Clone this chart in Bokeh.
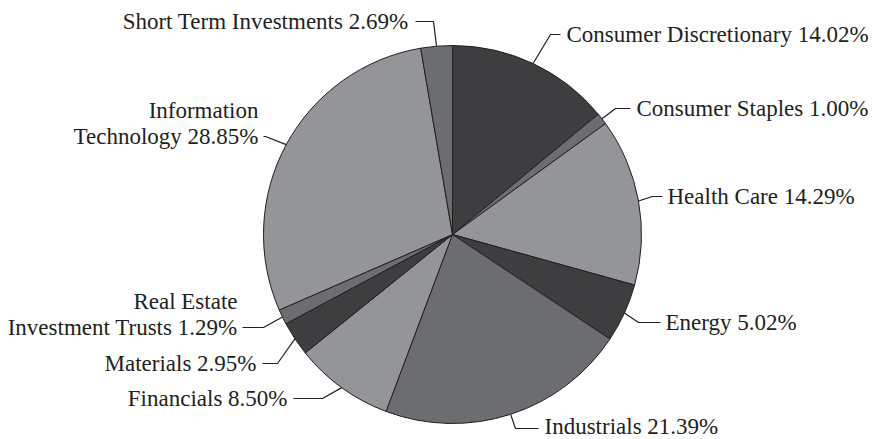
import math
from bokeh.plotting import figure
from bokeh.models import Range1d, ColumnDataSource
from bokeh.core.properties import value
from bokeh.embed import file_html
from bokeh.resources import INLINE

# ---- data ----
sectors = ["Consumer Discretionary", "Consumer Staples", "Health Care", "Energy",
           "Industrials", "Financials", "Materials", "Real Estate\nInvestment Trusts",
           "Information\nTechnology", "Short Term Investments"]
weights = [14.02, 1.00, 14.29, 5.02, 21.39, 8.50, 2.95, 1.29, 28.85, 2.69]
pct_labels = ["14.02%", "1.00%", "14.29%", "5.02%", "21.39%", "8.50%", "2.95%", "1.29%", "28.85%", "2.69%"]

DARK, MID, LIGHT = "#3e3e40", "#6c6d71", "#939598"
colors = [DARK, MID, LIGHT, DARK, MID, LIGHT, DARK, MID, LIGHT, MID]

# ---- layout (image pixel coords, y downward) ----
W, H = 872, 439
CX, CY, R = 452, 234, 189
# per label: elbow point, line end point, text x, text y, align
label_layout = [
    ((550, 34), (560, 34), 566, 34, "left"),
    ((615, 108), (630, 108), 636, 108, "left"),
    ((652, 196), (662, 196), 667, 196, "left"),
    ((638, 322), (660, 322), 665, 322, "left"),
    ((515, 428), (538, 428), 544, 426, "left"),
    ((322, 398), (293, 398), 287, 398, "right"),
    ((277, 363), (262, 363), 256, 363, "right"),
    ((263, 327), (242, 327), 237, 327, "right"),
    ((265, 136), (263, 136), 258, 136, "right"),
    ((433, 21), (415, 21), 408, 21, "right"),
]
FONT = "Liberation Serif"
FSIZE = "23px"
LINE_H = 26

def Y(img_y):
    return H - img_y  # data y so that page y == img y

p = figure(width=W, height=H, output_backend="svg", toolbar_location=None,
           x_range=Range1d(0, W), y_range=Range1d(0, H), min_border=0,
           outline_line_color=None)
p.axis.visible = False
p.grid.visible = False
p.background_fill_color = "white"
p.border_fill_color = "white"

total = sum(weights)
starts, ends, mids = [], [], []
acc = 0.0
for w in weights:
    a0 = math.pi / 2 - 2 * math.pi * acc / total
    acc += w
    a1 = math.pi / 2 - 2 * math.pi * acc / total
    starts.append(a0)
    ends.append(a1)
    mids.append((a0 + a1) / 2)

src = ColumnDataSource(dict(start=starts, end=ends, color=colors))
p.wedge(x=CX, y=Y(CY), radius=R, start_angle="start", end_angle="end",
        direction="clock", fill_color="color", line_color="#231f20", line_width=1,
        source=src)

for i, (name, pct) in enumerate(zip(sectors, pct_labels)):
    m = mids[i]
    sx = CX + R * math.cos(m)
    sy = CY - R * math.sin(m)
    (ex, ey), (lx, ly), tx, ty, align = label_layout[i]
    p.line([sx, ex, lx], [Y(sy), Y(ey), Y(ly)], line_color="#231f20", line_width=1.2)
    lines = (name + " " + pct).split("\n")
    n = len(lines)
    for j, t in enumerate(lines):
        yy = ty - (n - 1 - j) * LINE_H
        p.text(x=[tx], y=[Y(yy)], text=[t], text_align=align, text_baseline="middle",
               text_font=value(FONT), text_font_size=FSIZE, text_color="#231f20")

open("out.html", "w").write(file_html(p, INLINE))
